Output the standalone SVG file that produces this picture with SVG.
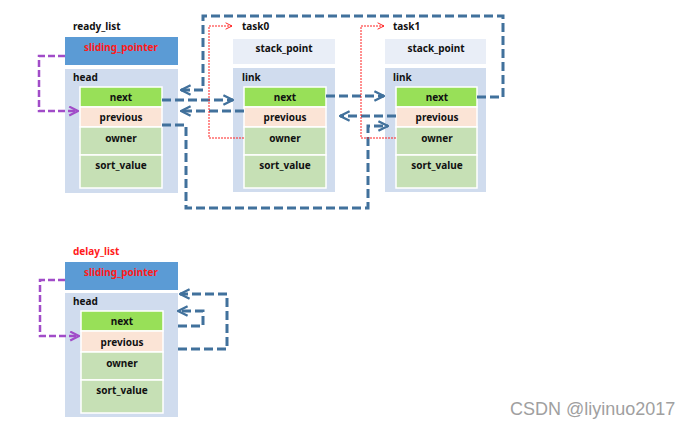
<svg xmlns="http://www.w3.org/2000/svg" width="692" height="426" viewBox="0 0 692 426">
<style>
text{font-family:"Noto Sans","Open Sans",sans-serif;font-weight:bold;font-size:10px;fill:#111}
.c{text-anchor:middle}
.red{fill:#ff1a1a}
.sp{fill:#5b9bd5}
.hd{fill:#d0dcee}
.st{fill:#e9eef7}
.nx{fill:#98e058;stroke:#fff;stroke-width:1.5}
.pv{fill:#fbe4d6;stroke:#fff;stroke-width:1.5}
.ow{fill:#c6e0b5;stroke:#fff;stroke-width:1.5}
.b{fill:none;stroke:#41719c;stroke-width:3;stroke-dasharray:9 4}
.p{fill:none;stroke:#a14cc8;stroke-width:2.5;stroke-dasharray:7 3}
.r{fill:none;stroke:#ff2020;stroke-width:1;stroke-dasharray:2 1}
.wm{font-family:"Liberation Sans",Arial,sans-serif;font-weight:normal;font-size:18px;fill:#a0a0a0}
</style>
<defs>
<marker id="ab" viewBox="0 0 10 10" refX="9" refY="5" markerWidth="4" markerHeight="4.4" orient="auto" markerUnits="strokeWidth"><path d="M1,1 L9,5 L1,9" fill="none" stroke="#41719c" stroke-width="2"/></marker>
<marker id="ap" viewBox="0 0 10 10" refX="9" refY="5" markerWidth="4.4" markerHeight="4.4" orient="auto" markerUnits="strokeWidth"><path d="M1,1 L9,5 L1,9" fill="none" stroke="#a14cc8" stroke-width="2"/></marker>
<marker id="ar" viewBox="0 0 10 10" refX="9" refY="5" markerWidth="8" markerHeight="8" orient="auto" markerUnits="strokeWidth"><path d="M1,1 L9,5 L1,9" fill="none" stroke="#ff2020" stroke-width="1.2"/></marker>
</defs>

<g id="ready_list">
<text x="73" y="30">ready_list</text>
<rect class="sp" x="65" y="37" width="113" height="28"/>
<text class="c red" x="121" y="51">sliding_pointer</text>
<rect class="hd" x="65" y="69" width="113" height="124"/>
<text x="73" y="81">head</text>
<rect class="nx" x="80" y="87" width="82" height="20"/>
<text class="c" x="121" y="101">next</text>
<rect class="pv" x="80" y="107" width="82" height="20"/>
<text class="c" x="121" y="121">previous</text>
<rect class="ow" x="80" y="127" width="82" height="28"/>
<text class="c" x="121" y="142">owner</text>
<rect class="ow" x="80" y="155" width="82" height="33"/>
<text class="c" x="121" y="169">sort_value</text>
</g>

<g id="task0">
<text x="242" y="30">task0</text>
<rect class="st" x="233" y="39" width="102" height="25"/>
<text class="c" x="284" y="52">stack_point</text>
<rect class="hd" x="233" y="68" width="102" height="124"/>
<text x="242" y="81">link</text>
<rect class="nx" x="244" y="87" width="82" height="20"/>
<text class="c" x="285" y="101">next</text>
<rect class="pv" x="244" y="107" width="82" height="20"/>
<text class="c" x="285" y="121">previous</text>
<rect class="ow" x="244" y="127" width="82" height="28"/>
<text class="c" x="285" y="142">owner</text>
<rect class="ow" x="244" y="155" width="82" height="33"/>
<text class="c" x="285" y="169">sort_value</text>
</g>

<g id="task1">
<text x="393" y="30">task1</text>
<rect class="st" x="385" y="39" width="101" height="25"/>
<text class="c" x="436" y="52">stack_point</text>
<rect class="hd" x="385" y="68" width="101" height="124"/>
<text x="393" y="81">link</text>
<rect class="nx" x="396" y="87" width="81" height="20"/>
<text class="c" x="437" y="101">next</text>
<rect class="pv" x="396" y="107" width="81" height="20"/>
<text class="c" x="437" y="121">previous</text>
<rect class="ow" x="396" y="127" width="81" height="28"/>
<text class="c" x="437" y="142">owner</text>
<rect class="ow" x="396" y="155" width="81" height="33"/>
<text class="c" x="437" y="169">sort_value</text>
</g>

<g id="delay_list">
<text class="red" x="73" y="255">delay_list</text>
<rect class="sp" x="65" y="262" width="113" height="28"/>
<text class="c red" x="121" y="276">sliding_pointer</text>
<rect class="hd" x="65" y="293" width="113" height="124"/>
<text x="73" y="305">head</text>
<rect class="nx" x="81" y="311" width="82" height="20"/>
<text class="c" x="122" y="325">next</text>
<rect class="pv" x="81" y="331" width="82" height="21"/>
<text class="c" x="122" y="346">previous</text>
<rect class="ow" x="81" y="352" width="82" height="28"/>
<text class="c" x="122" y="367">owner</text>
<rect class="ow" x="81" y="380" width="82" height="33"/>
<text class="c" x="122" y="394">sort_value</text>
</g>

<g id="connectors">
<path class="p" d="M65,56 H39 V111 H78" marker-end="url(#ap)"/>
<path class="p" d="M65,280 H40 V336 H79" marker-end="url(#ap)"/>

<path class="b" d="M162,100 H233" marker-end="url(#ab)"/>
<path class="b" d="M244,111 H181" marker-end="url(#ab)"/>
<path class="b" d="M477,97 H503 V16 H203 V90 H181" marker-end="url(#ab)"/>
<path class="b" d="M162,125 H186 V208 H368 V126 H388" marker-end="url(#ab)"/>
<path class="b" d="M326,96 H384" marker-end="url(#ab)"/>
<path class="b" d="M396,116 H340" marker-end="url(#ab)"/>

<path class="b" d="M178,349 H227 V294 H180" marker-end="url(#ab)"/>
<path class="b" d="M178,326 H203 V311 H178" marker-end="url(#ab)"/>

<path class="r" d="M244,138 H209 V26 H232" marker-end="url(#ar)"/>
<path class="r" d="M396,138 H361 V26 H384" marker-end="url(#ar)"/>
</g>

<text class="wm" x="510" y="415">CSDN @liyinuo2017</text>
</svg>
